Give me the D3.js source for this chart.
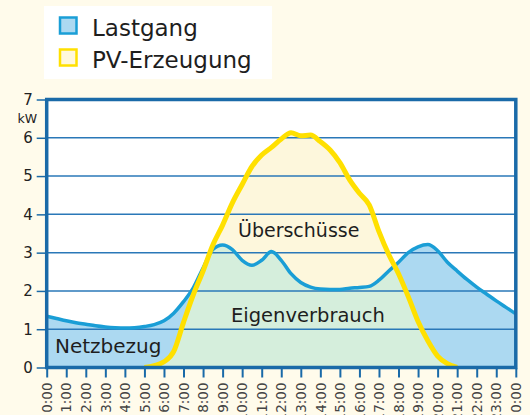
<!DOCTYPE html>
<html>
<head>
<meta charset="utf-8">
<script src="https://cdn.jsdelivr.net/npm/d3@7"></script>
<style>
  body { margin: 0; background: #fffbeb; }
  svg { display: block; }
  text { font-family: "DejaVu Sans", sans-serif; }
</style>
</head>
<body>
<script>
var width = 530,
    height = 415,
    plotLeft = 46.7,
    plotRight = 515.8,
    plotTop = 99.5,
    plotBottom = 367.5;

// Lastgang (kW), half-hour steps 0:00 .. 24:00
var loadHours = [0, 0.5, 1, 1.5, 2, 2.5, 3, 3.5, 4, 4.5, 5, 5.5, 6, 6.5, 7, 7.5, 8, 8.5, 9, 9.5,
                 10, 10.5, 11, 11.5, 12, 12.5, 13, 13.5, 14, 14.5, 15, 15.5, 16, 16.5, 17, 17.5,
                 18, 18.5, 19, 19.5, 20, 20.5, 21, 21.5, 22, 22.5, 23, 23.5, 24];
var loadValues = [1.34, 1.28, 1.22, 1.17, 1.13, 1.09, 1.06, 1.04, 1.03, 1.04, 1.07, 1.12, 1.22, 1.42, 1.72, 2.08, 2.6, 3.08, 3.2, 3.08,
                  2.8, 2.67, 2.8, 3.03, 2.8, 2.45, 2.22, 2.1, 2.05, 2.04, 2.04, 2.07, 2.09, 2.12, 2.28, 2.52,
                  2.75, 3.0, 3.15, 3.21, 3.05, 2.75, 2.52, 2.3, 2.1, 1.92, 1.74, 1.57, 1.4];

// PV-Erzeugung (kW), 5:00 .. 21:00
var pvHours = [5, 5.5, 6, 6.5, 7, 7.5, 8, 8.5, 9, 9.5, 10, 10.5, 11, 11.5, 12, 12.5, 13, 13.5,
               14, 14.5, 15, 15.5, 16, 16.5, 17, 17.5, 18, 18.5, 19, 19.5, 20, 20.5, 21];
var pvValues = [0, 0.05, 0.15, 0.42, 1.18, 1.9, 2.52, 3.2, 3.72, 4.3, 4.78, 5.25, 5.55, 5.75, 5.97, 6.13, 6.05, 6.07,
                5.9, 5.68, 5.35, 4.9, 4.55, 4.25, 3.55, 2.95, 2.45, 1.85, 1.2, 0.7, 0.3, 0.1, 0];

var xTicks = [0, 1, 2, 3, 4, 5, 6, 7, 8, 9, 10, 11, 12, 13, 14, 15, 16, 17, 18, 19, 20, 21, 22, 23, 24];
var xTickLabels = ["0:00", "1:00", "2:00", "3:00", "4:00", "5:00", "6:00", "7:00", "8:00", "9:00", "10:00", "11:00",
                   "12:00", "13:00", "14:00", "15:00", "16:00", "17:00", "18:00", "19:00", "20:00", "21:00",
                   "22:00", "23:00", "0:00"];
var yTicks = [0, 1, 2, 3, 4, 5, 6, 7];

var legendLabels = ["Lastgang", "PV-Erzeugung"];

var load = loadHours.map(function(h, i) { return {h: h, v: loadValues[i]}; });
var pv = pvHours.map(function(h, i) { return {h: h, v: pvValues[i]}; });

var x = d3.scaleLinear().domain([0, 24]).range([plotLeft, plotRight]);
var y = d3.scaleLinear().domain([0, 7]).range([plotBottom, plotTop]);

var svg = d3.select("body").append("svg")
    .attr("width", width)
    .attr("height", height);

var defs = svg.append("defs");
defs.append("clipPath").attr("id", "plot-clip")
    .append("rect")
        .attr("x", plotLeft).attr("y", plotTop)
        .attr("width", plotRight - plotLeft).attr("height", plotBottom - plotTop);

var area = d3.area()
    .x(function(d) { return x(d.h); })
    .y0(y(0))
    .y1(function(d) { return y(d.v); })
    .curve(d3.curveMonotoneX);

var line = d3.line()
    .x(function(d) { return x(d.h); })
    .y(function(d) { return y(d.v); })
    .curve(d3.curveMonotoneX);

defs.append("clipPath").attr("id", "load-clip")
    .append("path").attr("d", area(load));

// plot background
svg.append("rect")
    .attr("x", plotLeft).attr("y", plotTop)
    .attr("width", plotRight - plotLeft).attr("height", plotBottom - plotTop)
    .style("fill", "#ffffff");

var plot = svg.append("g").attr("clip-path", "url(#plot-clip)");

plot.append("path").attr("d", area(load)).style("fill", "#acd9f1");
plot.append("path").attr("d", area(pv)).style("fill", "#fdf7dc");
// Eigenverbrauch = overlap of both areas
plot.append("g").attr("clip-path", "url(#load-clip)")
    .append("path").attr("d", area(pv)).style("fill", "#d5eedc");

// gridlines
plot.selectAll("line.grid")
    .data(yTicks.slice(1, -1))
    .enter().append("line")
        .attr("class", "grid")
        .attr("x1", plotLeft).attr("x2", plotRight)
        .attr("y1", function(d) { return y(d); })
        .attr("y2", function(d) { return y(d); })
        .style("stroke", "#2a78b8")
        .style("stroke-width", 1.5);

plot.append("path").attr("d", line(load))
    .style("fill", "none").style("stroke", "#1a9ed6").style("stroke-width", 3.5);
plot.append("path").attr("d", line(pv))
    .style("fill", "none").style("stroke", "#ffe000").style("stroke-width", 5);

// inner labels
var inner = [
    {text: "Netzbezug", x: 55, y: 353, size: 20},
    {text: "Überschüsse", x: 238, y: 237, size: 19},
    {text: "Eigenverbrauch", x: 231, y: 322, size: 19.5}
];
svg.selectAll("text.inner")
    .data(inner)
    .enter().append("text")
        .attr("class", "inner")
        .attr("x", function(d) { return d.x; })
        .attr("y", function(d) { return d.y; })
        .style("font-size", function(d) { return d.size + "px"; })
        .style("fill", "#1e1e1e")
        .text(function(d) { return d.text; });

// axes
var yAxis = d3.axisLeft(y).tickValues(yTicks).tickFormat(d3.format("d")).tickSize(9).tickPadding(4);
var yg = svg.append("g").attr("transform", "translate(" + (plotLeft - 1) + ",0)").call(yAxis);
yg.select(".domain").remove();
yg.selectAll(".tick line").style("stroke", "#1a6aa8").style("stroke-width", 1.5);
yg.selectAll(".tick text").style("font-size", "15px").style("fill", "#222")
    .attr("font-family", null);

svg.append("text")
    .attr("x", 37).attr("y", 123)
    .attr("text-anchor", "end")
    .style("font-size", "12.5px")
    .style("fill", "#222")
    .text("kW");

var xAxis = d3.axisBottom(x).tickValues(xTicks)
    .tickFormat(function(d, i) { return xTickLabels[i]; })
    .tickSize(9).tickPadding(6);
var xg = svg.append("g").attr("transform", "translate(0," + (plotBottom + 1) + ")").call(xAxis);
xg.select(".domain").remove();
xg.selectAll(".tick line").style("stroke", "#1a6aa8").style("stroke-width", 2);
xg.selectAll(".tick text")
    .attr("font-family", null)
    .style("font-size", "13.5px")
    .style("fill", "#444")
    .attr("text-anchor", "end")
    .attr("transform", "rotate(-90)")
    .attr("x", -14).attr("y", 0).attr("dy", "0.35em");

// frame
svg.append("rect")
    .attr("x", plotLeft).attr("y", plotTop)
    .attr("width", plotRight - plotLeft).attr("height", plotBottom - plotTop)
    .style("fill", "none")
    .style("stroke", "#1a6aa8")
    .style("stroke-width", 3.5);

// legend
var legend = svg.append("g");
legend.append("rect")
    .attr("x", 44).attr("y", 6).attr("width", 228).attr("height", 73)
    .style("fill", "#ffffff");

var legendItems = legend.selectAll("g.item")
    .data(legendLabels)
    .enter().append("g")
        .attr("class", "item")
        .attr("transform", function(d, i) { return "translate(0," + (i * 32) + ")"; });

legendItems.append("rect")
    .attr("x", 60).attr("y", 17.5).attr("width", 16.5).attr("height", 16)
    .style("fill", function(d, i) { return i === 0 ? "#acd9f1" : "#fff8dc"; })
    .style("stroke", function(d, i) { return i === 0 ? "#1a9ed6" : "#ffe000"; })
    .style("stroke-width", 2.5);

legendItems.append("text")
    .attr("x", 92).attr("y", 35.5)
    .style("font-size", "23px")
    .style("fill", "#1e1e1e")
    .text(function(d) { return d; });
</script>
</body>
</html>
